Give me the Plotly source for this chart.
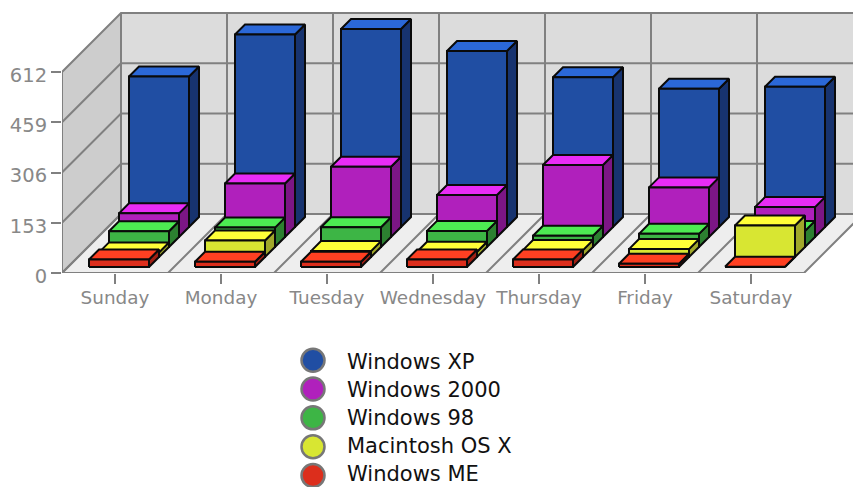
import plotly.graph_objects as go

# ---- data ----
days = ["Sunday", "Monday", "Tuesday", "Wednesday", "Thursday", "Friday", "Saturday"]
windows_xp = [458, 586, 603, 536, 456, 421, 427]
windows_2000 = [72, 163, 214, 128, 219, 151, 91]
windows_98 = [48, 59, 60, 49, 34, 40, 49]
macintosh = [14, 50, 18, 16, 21, 24, 96]
windows_me = [23, 16, 16, 23, 23, 10, 1]
y_ticks = [0, 153, 306, 459, 612]

series = [  # back to front
    ("Windows XP", windows_xp, "#204EA3", "#2B68D8", "#17336F"),
    ("Windows 2000", windows_2000, "#B020BC", "#E82CF5", "#7C1685"),
    ("Windows 98", windows_98, "#3DB545", "#4DEB52", "#2C8030"),
    ("Macintosh OS X", macintosh, "#D8E632", "#FFFF38", "#A0A82A"),
    ("Windows ME", windows_me, "#DC2E1C", "#FF4022", "#A02014"),
]

# ---- oblique projection, in axis units ----
W, H = 853, 487
LEFT, FLOOR = 62, 273
PX_X = 106.0                 # pixels per category
PX_Y = 201.0 / 612           # pixels per value
DEPTH = 59.0                 # wall depth in px


def proj(cat, value, depth_px):
    return cat + depth_px / PX_X, value + depth_px / PX_Y


def poly(points):
    xs, ys = [], []
    for c, v, d in points:
        x, y = proj(c, v, d)
        xs.append(x)
        ys.append(y)
    return xs, ys


GRID = "#808080"
fig = go.Figure()


def area(points, color):
    x, y = poly(points)
    fig.add_trace(go.Scatter(x=x + x[:1], y=y + y[:1], mode="lines", fill="toself",
                             fillcolor=color, line=dict(width=0), hoverinfo="skip",
                             showlegend=False, cliponaxis=False))


def lines(segments, color=GRID, width=2):
    xs, ys = [], []
    for seg in segments:
        x, y = poly(seg)
        xs += x + [None]
        ys += y + [None]
    fig.add_trace(go.Scatter(x=xs, y=ys, mode="lines", line=dict(color=color, width=width),
                             hoverinfo="skip", showlegend=False, cliponaxis=False))


n = len(days)
top = y_ticks[-1]
area([(0, 0, 0), (0, top, 0), (0, top, DEPTH), (0, 0, DEPTH)], "#CDCDCD")
area([(0, 0, DEPTH), (0, top, DEPTH), (n, top, DEPTH), (n, 0, DEPTH)], "#DCDCDC")
area([(0, 0, 0), (n, 0, 0), (n, 0, DEPTH), (0, 0, DEPTH)], "#EEEEEE")

segs = [[(0, v, 0), (0, v, DEPTH), (n, v, DEPTH)] for v in y_ticks]
segs += [[(i, 0, 0), (i, 0, DEPTH), (i, top, DEPTH)] for i in range(n + 1)]
segs += [[(0, 0, 0), (0, top, 0)], [(0, 0, 0), (n, 0, 0)]]
lines(segs)

BAR_OFF = 21 / PX_X
BAR_W = 60 / PX_X
STEP = 10.0
START = 6.0

for k, (name, vals, front, topc, side) in enumerate(series):
    d0 = START + STEP * (len(series) - 1 - k)
    d1 = d0 + STEP
    F, T, S = ([], []), ([], []), ([], [])
    for i, v in enumerate(vals):
        a = i + BAR_OFF
        b = a + BAR_W
        faces = [
            (S, [(b, 0, d0), (b, v, d0), (b, v, d1), (b, 0, d1)]),
            (T, [(a, v, d0), (b, v, d0), (b, v, d1), (a, v, d1)]),
            (F, [(a, 0, d0), (b, 0, d0), (b, v, d0), (a, v, d0)]),
        ]
        for store, pts in faces:
            x, y = poly(pts)
            store[0].extend(x + x[:1] + [None])
            store[1].extend(y + y[:1] + [None])
    for store, col in ((S, side), (T, topc), (F, front)):
        fig.add_trace(go.Scatter(x=store[0], y=store[1], mode="lines", fill="toself",
                                 fillcolor=col, line=dict(color="#0A0A0A", width=2),
                                 name=name, showlegend=False, hovertemplate=name + "<extra></extra>",
                                 cliponaxis=False))

# legend block, drawn on its own hidden axes
for k, (name, vals, front, topc, side) in enumerate(series):
    fig.add_trace(go.Scatter(x=[0], y=[k], xaxis="x2", yaxis="y2", mode="markers",
                             marker=dict(size=23, color=front, line=dict(color="#777777", width=2.5)),
                             showlegend=False, hoverinfo="skip", cliponaxis=False))
    fig.add_trace(go.Scatter(x=[34], y=[k * 0.97 + 0.12], xaxis="x2", yaxis="y2", mode="text",
                             text=[name], textposition="middle right",
                             textfont=dict(family="DejaVu Sans", size=21, color="#111111"),
                             showlegend=False, hoverinfo="skip", cliponaxis=False))

AXIS_FONT = dict(family="DejaVu Sans", size=18.4, color="#888888")
fig.update_layout(
    width=W, height=H, autosize=False,
    margin=dict(l=0, r=0, t=0, b=0),
    paper_bgcolor="white", plot_bgcolor="rgba(0,0,0,0)", showlegend=False,
    xaxis=dict(domain=[LEFT / W, 1], range=[0, (W - LEFT) / PX_X], anchor="y", automargin=False,
               tickmode="array", tickvals=[i + 0.5 for i in range(n)], ticktext=days,
               ticks="outside", ticklen=10, tickwidth=2, tickcolor=GRID, ticklabelstandoff=-2,
               showgrid=False, zeroline=False, showline=False, tickfont=AXIS_FONT),
    yaxis=dict(domain=[1 - FLOOR / H, 1], range=[0, FLOOR / PX_Y], anchor="x", automargin=False,
               tickmode="array", tickvals=y_ticks, ticktext=[str(v) for v in y_ticks],
               ticks="outside", ticklen=10, tickwidth=2, tickcolor=GRID, ticklabelshift=3,
               showgrid=False, zeroline=False, showline=False,
               tickfont=dict(family="DejaVu Sans", size=19.5, color="#888888")),
    xaxis2=dict(domain=[313 / W, 1], range=[0, 540], anchor="y2", visible=False, automargin=False),
    yaxis2=dict(domain=[0, 1 - 347.0 / H], range=[4.4, -0.46], anchor="x2", visible=False, automargin=False),
)

fig.write_html("out.html", post_script="document.body.style.margin='0';",
               config={"displayModeBar": False})
